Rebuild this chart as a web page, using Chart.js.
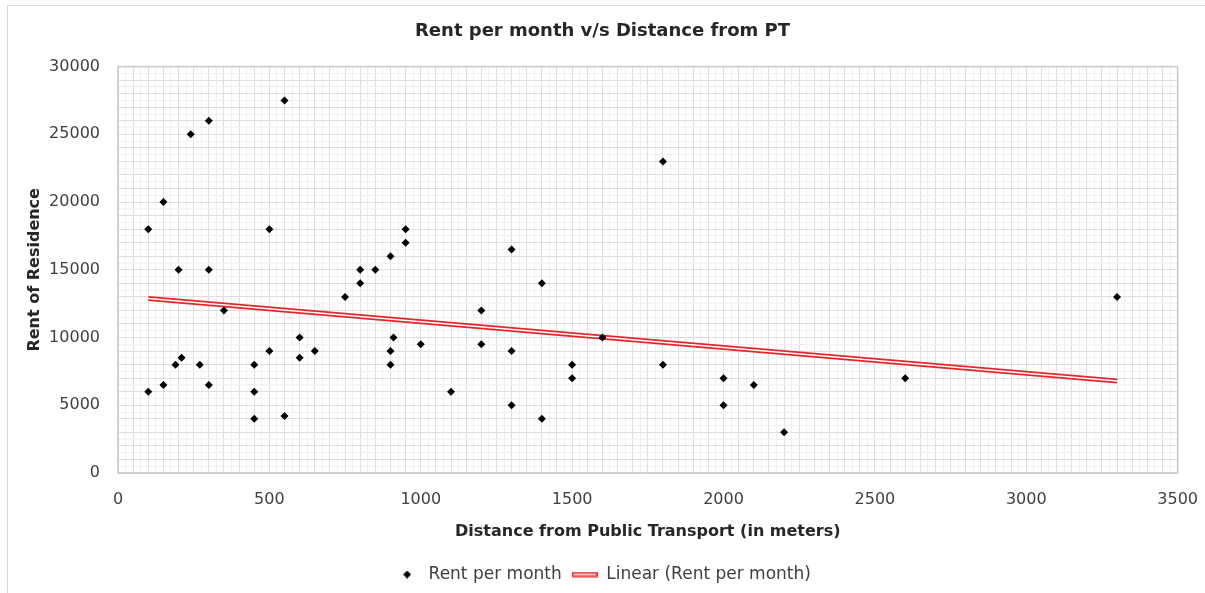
<!DOCTYPE html>
<html>
<head>
<meta charset="utf-8">
<script src="https://cdn.jsdelivr.net/npm/chart.js@4.4.1/dist/chart.umd.min.js"></script>
<style>
  body { margin: 0; background: #fff; }
  #wrap { position: relative; width: 1205px; height: 593px; overflow: hidden; }
</style>
</head>
<body>
<div id="wrap"><canvas id="rentChart" width="1205" height="593"></canvas></div>
<script>
// distance from public transport (m) and monthly rent
const distance = [100, 100, 150, 150, 190, 200, 210, 240, 270, 300, 300, 300, 350,
    450, 450, 450, 500, 500, 550, 550, 600, 600, 650, 750, 800, 800, 850, 900,
    950, 950, 900, 900, 910, 1000, 1100, 1200, 1200, 1300, 1300, 1300, 1400, 1400,
    1500, 1500, 1600, 1800, 1800, 2000, 2000, 2100, 2200, 2600, 3300];
const rent = [18000, 6000, 20000, 6500, 8000, 15000, 8500, 25000, 8000, 26000, 15000, 6500, 12000,
    8000, 6000, 4000, 18000, 9000, 27500, 4200, 10000, 8500, 9000, 13000, 15000, 14000, 15000, 16000,
    18000, 17000, 9000, 8000, 10000, 9500, 6000, 12000, 9500, 16500, 9000, 5000, 14000, 4000,
    8000, 7000, 10000, 23000, 8000, 7000, 5000, 6500, 3000, 7000, 13000];

const xTicks = [0, 500, 1000, 1500, 2000, 2500, 3000, 3500];
const yTicks = [0, 5000, 10000, 15000, 20000, 25000, 30000];

const FONT = "'Century Gothic', 'DejaVu Sans', sans-serif";

const points = distance.map((d, i) => ({ x: d, y: rent[i] }));

// least squares trend line, like Excel's "Linear" trendline
function linearFit(xs, ys) {
    const n = xs.length;
    const mx = xs.reduce((a, b) => a + b, 0) / n;
    const my = ys.reduce((a, b) => a + b, 0) / n;
    let sxy = 0, sxx = 0;
    xs.forEach((x, i) => {
        sxy += (x - mx) * (ys[i] - my);
        sxx += (x - mx) * (x - mx);
    });
    const slope = sxy / sxx;
    return { slope: slope, intercept: my - slope * mx };
}
const fit = linearFit(distance, rent);
const xMin = Math.min(...distance);
const xMax = Math.max(...distance);
const trend = [xMin, xMax].map(x => ({ x: x, y: fit.intercept + fit.slope * x }));

// legend swatches
function diamondIcon() {
    const c = document.createElement('canvas');
    c.width = 8; c.height = 8;
    const g = c.getContext('2d');
    g.fillStyle = '#000';
    g.beginPath();
    g.moveTo(4, 0); g.lineTo(8, 4); g.lineTo(4, 8); g.lineTo(0, 4);
    g.closePath();
    g.fill();
    return c;
}
function doubleLineIcon() {
    const c = document.createElement('canvas');
    c.width = 26; c.height = 6;
    const g = c.getContext('2d');
    g.fillStyle = '#e8262a';
    g.fillRect(0, 0.5, 26, 5);
    g.fillStyle = '#fff';
    g.fillRect(1.5, 2.3, 23, 1.5);
    return c;
}
const legendIcons = [diamondIcon(), doubleLineIcon()];

const frame = {
    id: 'frame',
    beforeDraw(chart) {
        const ctx = chart.ctx;
        ctx.save();
        ctx.strokeStyle = '#d9d9d9';
        ctx.lineWidth = 1;
        ctx.strokeRect(7.5, 5.5, 1210, 600);
        ctx.restore();
    },
    afterDatasetsDraw(chart) {
        const a = chart.chartArea;
        const ctx = chart.ctx;
        ctx.save();
        ctx.strokeStyle = '#c8c8c8';
        ctx.lineWidth = 1.5;
        ctx.strokeRect(a.left, a.top, a.right - a.left, a.bottom - a.top);
        ctx.restore();
    }
};

function gridColor(major) {
    return function (c) {
        if (c.tick && c.tick.value % major === 0) return '#dedede';
        return '#f0f0f0';
    };
}

new Chart(document.getElementById('rentChart').getContext('2d'), {
    type: 'scatter',
    data: {
        datasets: [{
            label: 'Rent per month',
            data: points,
            pointStyle: 'rectRot',
            pointRadius: 4,
            pointHoverRadius: 4,
            backgroundColor: '#000',
            borderColor: '#000',
            borderWidth: 0,
            order: 0
        }, {
            label: 'Linear (Rent per month)',
            type: 'line',
            data: trend,
            borderColor: '#e8262a',
            borderWidth: 5,
            pointRadius: 0,
            fill: false,
            order: 2
        }, {
            label: 'trend-inner',
            type: 'line',
            data: trend,
            borderColor: '#ffffff',
            borderWidth: 1.6,
            pointRadius: 0,
            fill: false,
            order: 1
        }]
    },
    options: {
        responsive: false,
        animation: false,
        layout: { padding: 0 },
        scales: {
            x: {
                type: 'linear',
                min: 0,
                max: 3500,
                border: { display: false },
                grid: {
                    color: gridColor(50),
                    lineWidth: 1,
                    drawTicks: true,
                    tickLength: 10,
                    tickColor: 'rgba(0,0,0,0)'
                },
                ticks: {
                    stepSize: 25,
                    autoSkip: false,
                    maxRotation: 0,
                    minRotation: 0,
                    padding: 7,
                    color: '#404040',
                    font: { family: FONT, size: 16 },
                    callback: function (v) { return xTicks.includes(v) ? String(v) : ''; }
                },
                title: {
                    display: true,
                    text: 'Distance from Public Transport (in meters)',
                    color: '#262626',
                    font: { family: FONT, size: 16, weight: 'bold' },
                    padding: { top: 0, bottom: 15 }
                },
                afterFit: function (s) { s.height = 83; }
            },
            y: {
                min: 0,
                max: 30000,
                border: { display: false },
                grid: { color: gridColor(1000), lineWidth: 1, drawTicks: false },
                ticks: {
                    stepSize: 500,
                    autoSkip: false,
                    padding: 18,
                    color: '#404040',
                    font: { family: FONT, size: 16 },
                    callback: function (v) { return yTicks.includes(v) ? String(v) : ''; }
                },
                title: {
                    display: true,
                    text: 'Rent of Residence',
                    color: '#262626',
                    font: { family: FONT, size: 16, weight: 'bold' },
                    padding: { top: 25, bottom: 0 }
                },
                afterFit: function (s) { s.width = 118; }
            }
        },
        plugins: {
            title: {
                display: true,
                text: 'Rent per month v/s Distance from PT',
                color: '#262626',
                font: { family: FONT, size: 18, weight: 'bold' },
                padding: { top: 21, bottom: 24 }
            },
            legend: {
                position: 'bottom',
                labels: {
                    usePointStyle: true,
                    pointStyleWidth: 26,
                    padding: 10,
                    color: '#404040',
                    font: { family: FONT, size: 17 },
                    generateLabels: function (chart) {
                        const items = Chart.defaults.plugins.legend.labels.generateLabels(chart);
                        return items.filter(it => it.datasetIndex < 2).map(it => {
                            it.pointStyle = legendIcons[it.datasetIndex];
                            it.lineWidth = 0;
                            return it;
                        });
                    }
                }
            },
            tooltip: { enabled: false }
        }
    },
    plugins: [frame]
});
</script>
</body>
</html>
